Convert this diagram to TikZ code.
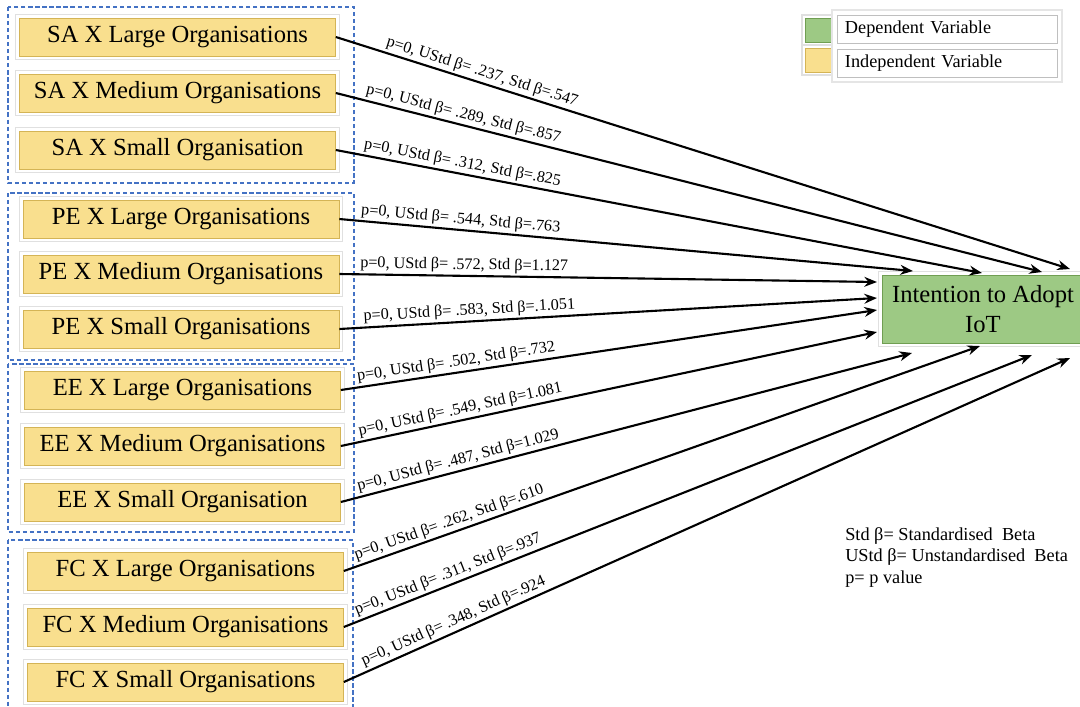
\documentclass[tikz,border=0pt]{standalone}
\usepackage{fontspec}
\setmainfont{Liberation Serif}
\usetikzlibrary{arrows.meta}

\definecolor{varyellow}{RGB}{249,223,142}
\definecolor{varyellowdk}{RGB}{212,180,86}
\definecolor{depgreen}{RGB}{157,201,132}
\definecolor{depgreendk}{RGB}{112,158,82}
\definecolor{grpblue}{RGB}{68,114,196}

\begin{document}
\begin{tikzpicture}[
        x=0.025cm, y=-0.025cm,
        var/.style={rectangle, draw=varyellowdk, fill=varyellow, minimum width=7.9cm, minimum height=0.95cm, inner sep=0pt,
            preaction={draw=black!12, line width=6pt}, preaction={draw=white, line width=4.5pt},
            font=\fontsize{17.5}{20}\selectfont},
        dep/.style={rectangle, draw=depgreendk, fill=depgreen, minimum width=5.05cm, minimum height=1.7cm, align=center,
            preaction={draw=black!12, line width=6pt}, preaction={draw=white, line width=4.5pt},
            font=\fontsize{17.5}{21}\selectfont},
        swatch/.style={rectangle, minimum width=1cm, minimum height=0.6cm,
            preaction={draw=black!12, line width=5pt}, preaction={draw=white, line width=3.5pt}},
        legbox/.style={rectangle, draw=black!25, fill=white, minimum height=0.7cm, text width=5.1cm, inner xsep=0.2cm, align=left,
            font=\fontsize{13}{15}\selectfont},
        grp/.style={draw=grpblue, line width=0.9pt, dash pattern=on 3pt off 2pt},
        edge/.style={-{Stealth[length=9pt,width=7pt]}, line width=1.5pt},
        lbl/.style={sloped, above, inner sep=1.5pt, font=\fontsize{11.5}{13}\selectfont}
    ]
    \useasboundingbox (0,0) rectangle (1080,706);
    \clip (0,0) rectangle (1080,706);

    % Groups
    \draw[grp] (8,7) rectangle (354,183);
    \draw[grp] (8,193) rectangle (354,360);
    \draw[grp] (8,364) rectangle (354,532);
    \draw[grp] (8,540) rectangle (353,712);

    % Independent variables
    \node[var] (sa1) at (177.5,37) {SA X Large Organisations};
    \node[var] (sa2) at (177.5,93) {SA X Medium Organisations};
    \node[var] (sa3) at (177.5,150) {SA X Small Organisation};

    \node[var] (pe1) at (181,219) {PE X Large Organisations};
    \node[var] (pe2) at (181,274) {PE X Medium Organisations};
    \node[var] (pe3) at (181,329) {PE X Small Organisations};

    \node[var] (ee1) at (182.5,390) {EE X Large Organisations};
    \node[var] (ee2) at (182.5,446) {EE X Medium Organisations};
    \node[var] (ee3) at (182.5,502) {EE X Small Organisation};

    \node[var] (fc1) at (185.5,571) {FC X Large Organisations};
    \node[var] (fc2) at (185.5,627) {FC X Medium Organisations};
    \node[var] (fc3) at (185.5,682) {FC X Small Organisations};

    % Dependent variable
    \node[dep] (dv) at (983,309) {Intention to Adopt\\IoT};

    % Arrow ends around dv
    \coordinate (in1) at (1070,269);
    \coordinate (in2) at (1042,272);
    \coordinate (in3) at (982,273);
    \coordinate (in4) at (913,271);
    \coordinate (in5) at (877,282);
    \coordinate (in6) at (877,298);
    \coordinate (in7) at (877,310);
    \coordinate (in8) at (877,332);
    \coordinate (in9) at (912,353);
    \coordinate (in10) at (980,346);
    \coordinate (in11) at (1032,355);
    \coordinate (in12) at (1070,358);

    % Paths
    \draw[edge] (sa1.east) -- node[lbl, pos=0.195] {p=0, UStd β= .237, Std β=.547} (in1);
    \draw[edge] (sa2.east) -- node[lbl, pos=0.177] {p=0, UStd β= .289, Std β=.857} (in2);
    \draw[edge] (sa3.east) -- node[lbl, pos=0.193] {p=0, UStd β= .312, Std β=.825} (in3);

    \draw[edge] (pe1.east) -- node[lbl, pos=0.21] {p=0, UStd β= .544, Std β=.763} (in4);
    \draw[edge] (pe2.east) -- node[lbl, pos=0.232] {p=0, UStd β= .572, Std β=1.127} (in5);
    \draw[edge] (pe3.east) -- node[lbl, pos=0.243] {p=0, UStd β= .583, Std β=.1.051} (in6);

    \draw[edge] (ee1.east) -- node[lbl, pos=0.218] {p=0, UStd β= .502, Std β=.732} (in7);
    \draw[edge] (ee2.east) -- node[lbl, pos=0.227] {p=0, UStd β= .549, Std β=1.081} (in8);
    \draw[edge] (ee3.east) -- node[lbl, pos=0.21] {p=0, UStd β= .487, Std β=1.029} (in9);

    \draw[edge] (fc1.east) -- node[lbl, pos=0.171] {p=0, UStd β= .262, Std β=.610} (in10);
    \draw[edge] (fc2.east) -- node[lbl, pos=0.157] {p=0, UStd β= .311, Std β=.937} (in11);
    \draw[edge] (fc3.east) -- node[lbl, pos=0.157] {p=0, UStd β= .348, Std β=.924} (in12);

    % Legend
    \node[swatch, fill=depgreen, draw=depgreendk] (swG) at (825,30) {};
    \node[swatch, fill=varyellow, draw=varyellowdk] (swY) at (825,60) {};
    \draw[draw=black!10, fill=white, line width=1pt] (832,10) rectangle (1062,82);
    \node[legbox] (legD) at (947,29) {Dependent Variable};
    \node[legbox] (legI) at (947,63.5) {Independent Variable};

    % Notes
    \node[anchor=north west, align=left, inner sep=0pt, font=\fontsize{13}{15.5}\selectfont] (notes) at (845,527)
        {Std β= Standardised\ \ Beta\\UStd β= Unstandardised\ \ Beta\\p= p value};

\end{tikzpicture}
\end{document}
